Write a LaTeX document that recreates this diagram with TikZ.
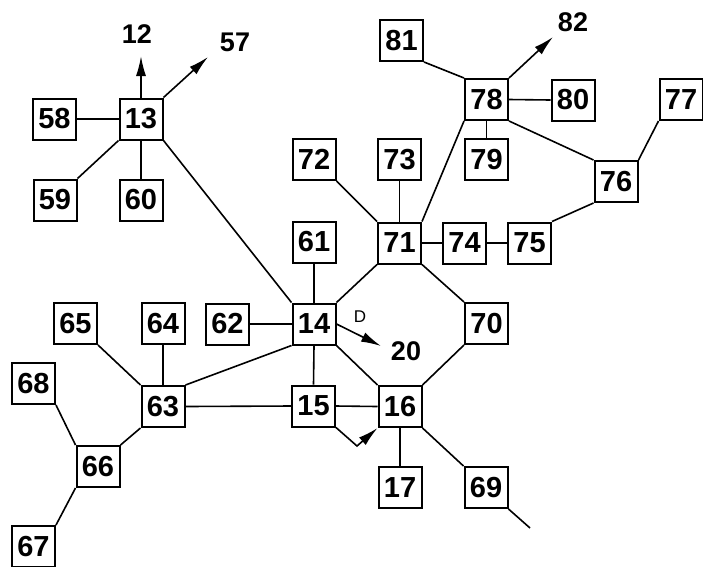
\documentclass[tikz,border=0pt]{standalone}
\usepackage{fontspec}
\setmainfont{Liberation Sans}
\usetikzlibrary{arrows.meta}
\tikzset{
  bx/.style={draw, line width=2pt, minimum width=43pt, minimum height=41pt, inner sep=0pt,
    font=\bfseries\fontsize{29}{29}\selectfont},
  lbl/.style={inner sep=0pt, font=\bfseries\fontsize{27}{27}\selectfont},
  dl/.style={inner sep=0pt, font=\fontsize{17}{17}\selectfont},
  ln/.style={line width=1.6pt},
  arr/.style={line width=1.6pt, -{Latex[length=20pt,width=10pt]}}
}
\begin{document}
\begin{tikzpicture}[x=1pt,y=-1pt]
\useasboundingbox (0,0) rectangle (703,566);
\node[bx] (n13) at (141,119) {13};
\node[bx] (n58) at (54.5,119) {58};
\node[bx] (n59) at (55,200) {59};
\node[bx] (n60) at (141,200) {60};
\node[bx] (n81) at (401.5,40.5) {81};
\node[bx] (n78) at (486.5,99.5) {78};
\node[bx] (n80) at (573,100) {80};
\node[bx] (n79) at (486.5,159.5) {79};
\node[bx] (n77) at (681,99.5) {77};
\node[bx] (n76) at (616,181.5) {76};
\node[bx] (n72) at (314,159.5) {72};
\node[bx] (n73) at (399.5,159.5) {73};
\node[bx] (n71) at (399.5,243) {71};
\node[bx] (n74) at (464.5,243) {74};
\node[bx] (n75) at (529.5,243) {75};
\node[bx] (n61) at (314,242) {61};
\node[bx] (n70) at (486.5,323.5) {70};
\node[bx] (n62) at (227.5,324) {62};
\node[bx] (n14) at (314,324) {14};
\node[bx] (n65) at (75.5,323.5) {65};
\node[bx] (n64) at (163,323.5) {64};
\node[bx] (n63) at (163,406.5) {63};
\node[bx] (n15) at (313.5,406) {15};
\node[bx] (n16) at (400,406.5) {16};
\node[bx] (n68) at (33.5,383.5) {68};
\node[bx] (n66) at (98,466.5) {66};
\node[bx] (n67) at (33.5,546.5) {67};
\node[bx] (n17) at (400,487.5) {17};
\node[bx] (n69) at (486,487.5) {69};
\node[lbl] (l12) at (137,34) {12};
\node[lbl] (l57) at (235,42) {57};
\node[lbl] (l82) at (573,22) {82};
\node[lbl] (l20) at (406,351) {20};
\node[dl] (lD) at (360,317) {D};
\coordinate (t12) at (141,56);
\coordinate (t57) at (208,57);
\coordinate (t82) at (553,37);
\coordinate (t20) at (381,346);
\coordinate (bend) at (357,446);
\coordinate (tail69) at (530,528);
% edges
\draw[ln] (n58.east) -- (n13.west);
\draw[ln] (n59.north east) -- (n13.south west);
\draw[ln] (n60.north) -- (n13.south);
\draw[ln] (n13.south east) -- (n14.north west);
\draw[arr] (n13.north) -- (t12);
\draw[arr] (n13.north east) -- (t57);
\draw[ln] (n81.south east) -- (n78.north west);
\draw[arr] (n78.north east) -- (t82);
\draw[ln] (n78.east) -- (n80.west);
\draw[ln] (n78.south) -- (n79.north);
\draw[ln] (n78.south east) -- (n76.north west);
\draw[ln] (n78.south west) -- (n71.north east);
\draw[ln] (n77.south west) -- (n76.north east);
\draw[ln] (n76.south west) -- (n75.north east);
\draw[ln] (n72.south east) -- (n71.north west);
\draw[ln] (n73.south) -- (n71.north);
\draw[ln] (n71.east) -- (n74.west);
\draw[ln] (n74.east) -- (n75.west);
\draw[ln] (n71.south west) -- (n14.north east);
\draw[ln] (n71.south east) -- (n70.north west);
\draw[ln] (n70.south west) -- (n16.north east);
\draw[ln] (n61.south) -- (n14.north);
\draw[ln] (n62.east) -- (n14.west);
\draw[ln] (n14.south west) -- (n63.north east);
\draw[ln] (n14.south) -- (n15.north);
\draw[ln] (n14.south east) -- (n16.north west);
\draw[arr] (n14.east) -- (t20);
\draw[ln] (n65.south east) -- (n63.north west);
\draw[ln] (n64.south) -- (n63.north);
\draw[ln] (n63.east) -- (n15.west);
\draw[ln] (n63.south west) -- (n66.north east);
\draw[ln] (n68.south east) -- (n66.north west);
\draw[ln] (n67.north east) -- (n66.south west);
\draw[ln] (n15.east) -- (n16.west);
\draw[arr] (n15.south east) -- (bend) -- (n16.south west);
\draw[ln] (n16.south) -- (n17.north);
\draw[ln] (n16.south east) -- (n69.north west);
\draw[ln] (n69.south east) -- (tail69);
\end{tikzpicture}
\end{document}
